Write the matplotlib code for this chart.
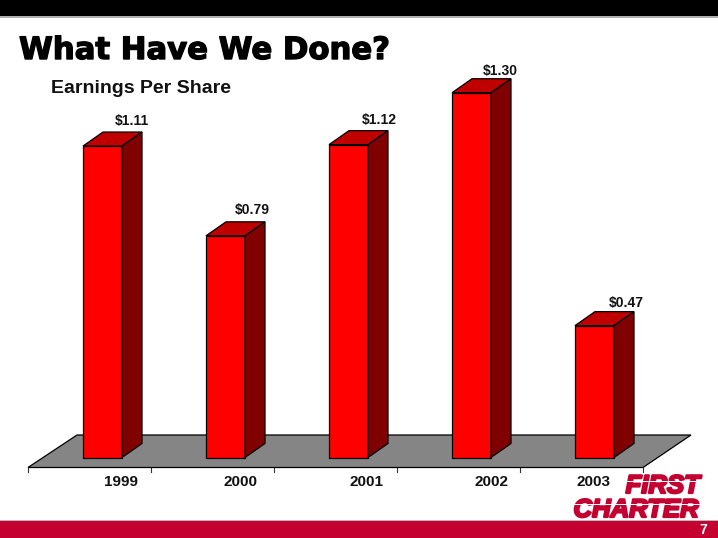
import matplotlib
matplotlib.use('Agg')
import matplotlib.pyplot as plt
import matplotlib.patheffects as pe
from matplotlib.patches import Polygon, Rectangle

years = ['1999', '2000', '2001', '2002', '2003']
eps = [1.11, 0.79, 1.115, 1.30, 0.47]
eps_labels = ['$1.11', '$0.79', '$1.12', '$1.30', '$0.47']

plt.rcParams['font.family'] = ['Liberation Sans', 'DejaVu Sans']

# scale of the chart, in pixels
w, h = 718, 538
x_step = 123.0
y_unit = 280.6
x0 = 102.5
y0 = 457.5

# nudges for the labels, the original ones are not centred on the bars
label_dx = [29.5, 26.5, 31, 28.5, 32]
label_dy = [25.5, 25.5, 25, 21.5, 22.5]
year_dx = [18, 15, 18, 20, -1]


def px(n):
    return n / x_step


def py(n):
    return n / y_unit


fig = plt.figure(figsize=(w / 100, h / 100), dpi=100)
ax = fig.add_axes([0, 0, 1, 1])
ax.set_xlim(-x0 / x_step, (w - x0) / x_step)
ax.set_ylim((y0 - h) / y_unit, y0 / y_unit)
ax.axis('off')

# header and footer bands
ax.add_patch(Rectangle((0, 1 - 16 / h), 1, 16 / h, transform=ax.transAxes, color='black', lw=0))
ax.add_patch(Rectangle((0, 1 - 17.5 / h), 1, 1.5 / h, transform=ax.transAxes, color='#b0b0b0', lw=0))
ax.add_patch(Rectangle((0, 0), 1, 17 / h, transform=ax.transAxes, color='#c40030', lw=0))
ax.add_patch(Rectangle((0, 17 / h), 1, 1.5 / h, transform=ax.transAxes, color='#b8b8b8', lw=0))

# floor
fl = -py(10)
floor = Polygon([(px(-74.5), fl), (px(540.5), fl), (px(588.5), py(22.5)), (px(-25.5), py(22.5))],
                closed=True, facecolor='#858585', edgecolor='black', lw=0.9, zorder=1)
ax.add_patch(floor)

# tick marks under the floor
for i in range(6):
    tx = px(-74.5) + i
    ax.plot([tx, tx], [fl, fl - py(4.5)], color='#333333', lw=0.8, zorder=1)

# bars with their fake depth
half = 19.5
dx, dy = 20, 14
for i, v in enumerate(eps):
    l, r = i - px(half), i + px(half)
    ax.add_patch(Rectangle((l, 0), r - l, v, facecolor='#ff0000', edgecolor='black', lw=0.9, zorder=3))
    ax.add_patch(Polygon([(l, v), (r, v), (r + px(dx), v + py(dy)), (l + px(dx), v + py(dy))],
                         closed=True, facecolor='#c00000', edgecolor='black', lw=0.9, zorder=3))
    ax.add_patch(Polygon([(r, 0), (r + px(dx), py(dy)), (r + px(dx), v + py(dy)), (r, v)],
                         closed=True, facecolor='#800000', edgecolor='black', lw=0.9, zorder=3))
    ax.text(i + px(label_dx[i]), v + py(label_dy[i]), eps_labels[i].replace('$', r'\$'), ha='center', va='center',
            fontsize=10, fontweight='bold', color='#111111', zorder=4)
    ax.text(i + px(year_dx[i]), -py(24.5), years[i], ha='center', va='center',
            fontsize=11, fontweight='bold', color='#111111', zorder=4)

# titles
title = fig.text(19 / w, 1 - 59 / h, 'What Have We Done?', fontsize=22.1, fontweight='bold', color='black',
                 family='DejaVu Sans', ha='left', va='baseline')
title.set_path_effects([pe.withStroke(linewidth=1.0, foreground='black')])
fig.text(51 / w, 1 - 93 / h, 'Earnings Per Share', fontsize=14, fontweight='bold', color='#111111',
         ha='left', va='baseline')

# logo
for txt, rx, by, sz in [('FIRST', 700, 493, 18.5), ('CHARTER', 699, 517, 18.5)]:
    t = fig.text(rx / w, 1 - by / h, txt, fontsize=sz, fontweight='bold', style='italic', color='#c40030',
                 ha='right', va='baseline')
    t.set_path_effects([pe.withStroke(linewidth=1.6, foreground='#c40030')])

# white stripes cut through the logo
for sx, sw, sy in [(620, 84, 482), (566, 136, 505)]:
    fig.patches.append(Rectangle((sx / w, 1 - sy / h), sw / w, 1 / h, transform=fig.transFigure,
                                 color='white', lw=0, zorder=5))

fig.text(703 / w, 1 - 530 / h, '7', fontsize=10, fontweight='bold', color='white', ha='center', va='center')

fig.savefig('out.png', dpi=100)
